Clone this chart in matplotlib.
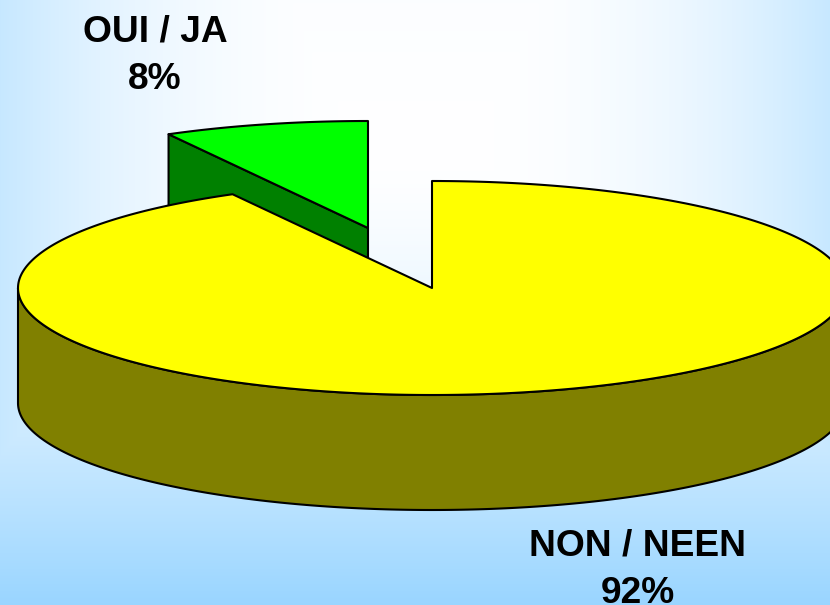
import numpy as np
import matplotlib
matplotlib.use("Agg")
import matplotlib.pyplot as plt

# ---- data ----
categories = ["NON / NEEN", "OUI / JA"]
shares = [92, 8]
percent_labels = ["92%", "8%"]
top_colors = ["#FFFF00", "#00FF00"]
side_colors = ["#808000", "#008000"]

# ---- geometry of the tilted pie, in pixels ----
W, H = 830, 605
CX, CY = 432, 288
RX, RY = 414, 107
DEPTH = 115
EXPLODE = (-64, -60)

fig = plt.figure(figsize=(W / 100, H / 100), dpi=100)
ax = fig.add_axes([0, 0, 1, 1])
ax.set_xlim(0, W)
ax.set_ylim(H, 0)
ax.axis("off")

# background gradient
yy, xx = np.mgrid[0:H, 0:W]
tx = 0.55 * (np.abs(xx - 415) / 415) ** 2.4
ty = np.clip((yy - 150) / 455, 0, 1) ** 1.5
t = np.maximum(np.maximum(tx, ty), 0.03 * (1 - yy / 150))
white = np.array([1.0, 1.0, 1.0])
blue = np.array([0x99, 0xD5, 0xFF]) / 255
img = white + (blue - white) * t[..., None]
ax.imshow(img, extent=(0, W, H, 0), aspect="auto", zorder=0)


def rim(t0, t1, n=240):
    """Rim points, with the angle running clockwise from 12 o'clock."""
    a = np.radians(np.linspace(t0, t1, n))
    return np.sin(a), -np.cos(a)


LW = 1.5
split = 360 * shares[0] / sum(shares)

# exploded small slice: the cut face first, then its top
gx, gy = CX + EXPLODE[0], CY + EXPLODE[1]
sx, sy = rim(split, 360)
ex, ey = gx + RX * sx[0], gy + RY * sy[0]
ax.fill([ex, gx, gx, ex], [ey, gy, gy + DEPTH, ey + DEPTH],
        fc=side_colors[1], ec="black", lw=LW, joinstyle="round", zorder=2)
ax.fill(np.r_[gx, gx + RX * sx], np.r_[gy, gy + RY * sy],
        fc=top_colors[1], ec="black", lw=LW, joinstyle="round", zorder=3)

# outer wall of the large slice (front half of the rim)
sx, sy = rim(90, 270)
ax.fill(np.r_[CX + RX * sx, CX + RX * sx[::-1]],
        np.r_[CY + RY * sy, CY + RY * sy[::-1] + DEPTH],
        fc=side_colors[0], ec="black", lw=LW, joinstyle="round", zorder=4)

# top of the large slice
sx, sy = rim(0, split, 480)
ax.fill(np.r_[CX, CX + RX * sx], np.r_[CY, CY + RY * sy],
        fc=top_colors[0], ec="black", lw=LW, joinstyle="round", zorder=5)

# labels
font = dict(family="Liberation Sans", fontweight="bold", fontsize=26.7,
            color="black", ha="center", va="baseline", zorder=6)
ax.text(155, 41, categories[1], **font)
ax.text(155, 89, percent_labels[1], **font)
ax.text(637.5, 555, categories[0], **font)
ax.text(637.5, 603, percent_labels[0], **font)

fig.savefig("out.png", dpi=100)
